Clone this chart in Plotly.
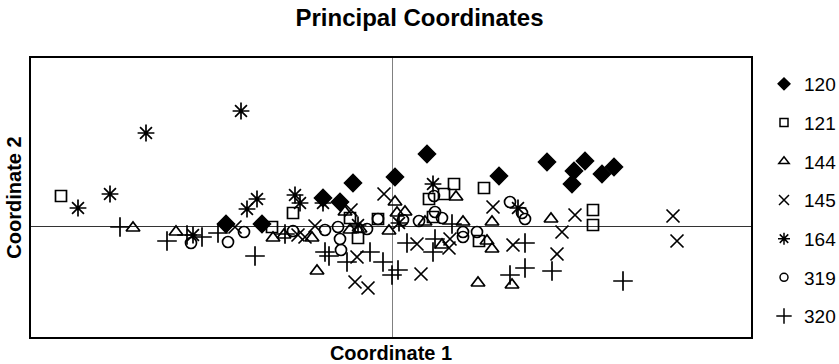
import plotly.graph_objects as go

# Principal coordinate scores per population
names = ["120", "121", "144", "145", "164", "319", "320"]

x_120 = [-1.66, -1.30, -0.69, -0.52, -0.39, 0.03, 0.35, 1.07, 1.55, 1.80, 1.82, 1.93, 2.10, 2.22]
y_120 = [0.02, 0.02, 0.28, 0.24, 0.43, 0.49, 0.72, 0.50, 0.64, 0.42, 0.55, 0.65, 0.52, 0.59]

x_121 = [-3.31, -1.20, -0.99, -0.42, -0.34, -0.14, 0.37, 0.41, 0.52, 0.62, 0.87, 0.92, 2.01, 2.01]
y_121 = [0.30, -0.01, 0.13, 0.08, -0.12, 0.07, 0.27, 0.09, 0.32, 0.42, -0.15, 0.38, 0.16, 0.01]

x_144 = [-2.59, -2.16, -1.19, -1.08, -0.80, -0.75, -0.47, -0.42, -0.32, -0.03, 0.03, 0.05,
         0.13, 0.33, 0.50, 0.64, 0.71, 0.86, 0.95, 1.00, 1.00, 1.20, 1.59]
y_144 = [-0.02, -0.06, -0.12, -0.09, -0.12, -0.45, 0.14, -0.04, -0.03, -0.05, 0.24, 0.13,
         0.14, 0.04, -0.19, 0.29, 0.04, -0.57, -0.15, -0.23, 0.04, -0.59, 0.07]

x_145 = [-1.57, -0.94, -0.87, -0.77, -0.41, -0.35, -0.37, -0.24, -0.08, 0.25, 0.29, 0.58,
         0.57, 1.01, 1.21, 1.65, 1.70, 1.83, 2.81, 2.85]
y_145 = [-0.01, -0.09, -0.11, 0.00, 0.16, -0.31, -0.56, -0.62, 0.32, -0.18, -0.48, -0.13,
         -0.22, 0.19, -0.19, -0.28, -0.06, 0.11, 0.10, -0.15]

x_164 = [-3.14, -2.82, -2.46, -1.99, -1.51, -1.45, -1.35, -0.97, -0.92, -0.69, -0.34, 0.07, 0.41, 1.26]
y_164 = [0.18, 0.32, 0.93, -0.09, 1.15, 0.17, 0.27, 0.31, 0.23, 0.23, 0.01, 0.03, 0.42, 0.18]

x_319 = [-2.01, -1.64, -1.48, -0.99, -0.67, -0.54, -0.52, -0.51, -0.25, -0.14, 0.11, 0.27,
         0.42, 0.43, 0.50, 0.71, 0.71, 0.85, 1.18, 1.33, 1.30]
y_319 = [-0.17, -0.16, -0.06, -0.05, -0.04, -0.01, -0.13, -0.24, -0.03, 0.07, 0.06, 0.05,
         0.30, 0.14, 0.08, -0.06, -0.11, -0.06, 0.24, 0.07, 0.13]

x_320 = [-2.72, -2.25, -2.05, -1.90, -1.74, -1.37, -1.07, -0.67, -0.63, -0.45, -0.22, -0.09,
         0.00, 0.06, 0.15, 0.43, 0.41, 0.60, 1.18, 1.33, 1.33, 1.60, 2.31]
y_320 = [-0.01, -0.15, -0.09, -0.11, -0.07, -0.30, -0.08, -0.26, -0.30, -0.36, -0.26, -0.36,
         -0.49, -0.44, -0.17, -0.13, -0.26, 0.02, -0.49, -0.42, -0.17, -0.45, -0.55]

xs = [x_120, x_121, x_144, x_145, x_164, x_319, x_320]
ys = [y_120, y_121, y_144, y_145, y_164, y_319, y_320]

symbols = ["diamond", "square-open", "triangle-up-open", "x-thin-open",
           "asterisk-open", "circle-open", "cross-thin-open"]
sizes = [13, 11, 12, 13, 14, 11, 14]
leg_sizes = [9, 8, 9, 10, 10, 8, 11]

fig = go.Figure()
for n, x, y, s, sz in zip(names, xs, ys, symbols, sizes):
    fig.add_trace(go.Scatter(
        x=x, y=y, mode="markers", name=n, showlegend=False,
        marker=dict(symbol=s, size=sz, color="black",
                    line=dict(color="black", width=1.7)),
    ))
for n, s, sz in zip(names, symbols, leg_sizes):
    fig.add_trace(go.Scatter(
        x=[None], y=[None], mode="markers", name=n, legendgroup=n,
        marker=dict(symbol=s, size=sz, color="black",
                    line=dict(color="black", width=1.5)),
    ))

font_fam = "Liberation Sans, Arial, sans-serif"
fig.update_layout(
    width=839, height=364,
    margin=dict(l=31, r=88, t=58, b=27),
    paper_bgcolor="white", plot_bgcolor="white",
    font=dict(family=font_fam, color="black"),
    title=dict(text="<b>Principal Coordinates</b>", x=0.5, xref="container",
               xanchor="center", y=1 - 18 / 364, yanchor="middle",
               font=dict(size=24, family=font_fam, color="black")),
    legend=dict(xref="container", yref="container",
                x=764 / 839, xanchor="left", y=1 - 65 / 364, yanchor="top",
                font=dict(size=19, family=font_fam, color="black"),
                tracegroupgap=11, itemwidth=30, maxheight=360,
                bgcolor="rgba(0,0,0,0)"),
    xaxis=dict(range=[-3.61, 3.59], showgrid=False, showticklabels=False, ticks="",
               zeroline=True, zerolinecolor="#808080", zerolinewidth=1,
               showline=True, mirror=True, linecolor="black", linewidth=2,
               automargin=False,
               title=dict(text="<b>Coordinate 1</b>", standoff=8,
                          font=dict(size=20, family=font_fam, color="black"))),
    yaxis=dict(range=[-1.11, 1.68], showgrid=False, showticklabels=False, ticks="",
               zeroline=True, zerolinecolor="#333333", zerolinewidth=1,
               showline=True, mirror=True, linecolor="black", linewidth=2,
               automargin=False,
               title=dict(text="<b>Coordinate 2</b>", standoff=2,
                          font=dict(size=20, family=font_fam, color="black"))),
)

fig.write_html(
    "out.html",
    config={"displayModeBar": False},
    post_script="document.body.style.margin='0';document.body.style.overflow='hidden';",
)
